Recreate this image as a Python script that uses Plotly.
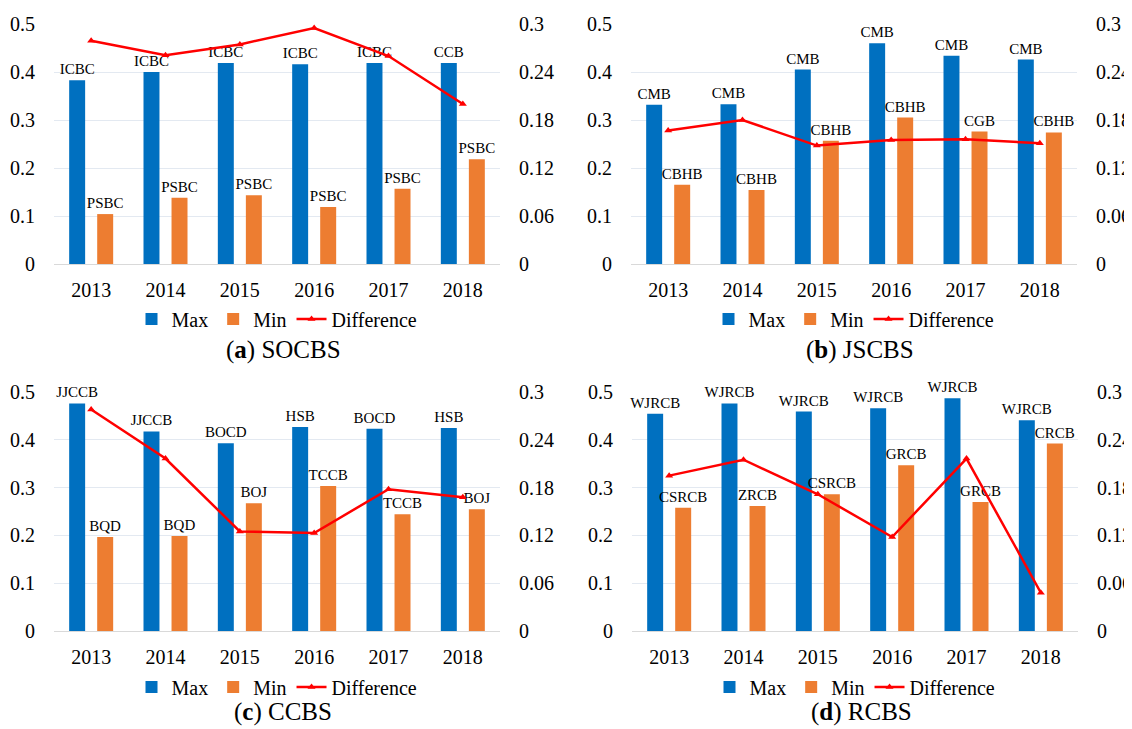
import plotly.graph_objects as go

years = ["2013", "2014", "2015", "2016", "2017", "2018"]

# (a) SOCBS
a_max = [0.383, 0.400, 0.419, 0.416, 0.419, 0.419]
a_min = [0.104, 0.138, 0.143, 0.119, 0.157, 0.218]
a_diff = [0.279, 0.261, 0.2745, 0.295, 0.260, 0.200]
a_max_lbl = ["ICBC", "ICBC", "ICBC", "ICBC", "ICBC", "CCB"]
a_min_lbl = ["PSBC", "PSBC", "PSBC", "PSBC", "PSBC", "PSBC"]

# (b) JSCBS
b_max = [0.332, 0.333, 0.405, 0.460, 0.434, 0.426]
b_min = [0.165, 0.154, 0.257, 0.305, 0.276, 0.274]
b_diff = [0.167, 0.180, 0.148, 0.155, 0.156, 0.151]
b_max_lbl = ["CMB", "CMB", "CMB", "CMB", "CMB", "CMB"]
b_min_lbl = ["CBHB", "CBHB", "CBHB", "CBHB", "CGB", "CBHB"]

# (c) CCBS
c_max = [0.476, 0.4175, 0.393, 0.4266, 0.423, 0.4245]
c_min = [0.1965, 0.199, 0.267, 0.3035, 0.244, 0.2545]
c_diff = [0.278, 0.2165, 0.125, 0.123, 0.178, 0.168]
c_max_lbl = ["JJCCB", "JJCCB", "BOCD", "HSB", "BOCD", "HSB"]
c_min_lbl = ["BQD", "BQD", "BOJ", "TCCB", "TCCB", "BOJ"]

# (d) RCBS
d_max = [0.4545, 0.476, 0.459, 0.466, 0.487, 0.441]
d_min = [0.258, 0.2615, 0.286, 0.347, 0.270, 0.392]
d_diff = [0.195, 0.215, 0.1716, 0.118, 0.2165, 0.048]
d_max_lbl = ["WJRCB"] * 6
d_min_lbl = ["CSRCB", "ZRCB", "CSRCB", "GRCB", "GRCB", "CRCB"]

left_ticks = [0, 0.1, 0.2, 0.3, 0.4, 0.5]
left_tick_text = ["0", "0.1", "0.2", "0.3", "0.4", "0.5"]
right_ticks = [0, 0.06, 0.12, 0.18, 0.24, 0.3]
right_tick_text = ["0", "0.06", "0.12", "0.18", "0.24", "0.3"]

captions = ["(<b>a</b>) SOCBS", "(<b>b</b>) JSCBS", "(<b>c</b>) CCBS", "(<b>d</b>) RCBS"]
panels = [
    (a_max, a_min, a_diff, a_max_lbl, a_min_lbl),
    (b_max, b_min, b_diff, b_max_lbl, b_min_lbl),
    (c_max, c_min, c_diff, c_max_lbl, c_min_lbl),
    (d_max, d_min, d_diff, d_max_lbl, d_min_lbl),
]

# The page body adds an 8px margin, so the figure is 8px smaller than the window
OFF = 8
W, H = 1132 - OFF, 729 - OFF
FONT = "Liberation Serif"
BLUE = "#0070C0"
ORANGE = "#ED7D31"
RED = "#FF0000"


def px_x(p):
    return (p - OFF) / W


def px_y(p):
    return 1 - (p - OFF) / H


# window-pixel geometry of each plot area: (left, right, top, bottom)
boxes = [
    (54, 500, 24, 264),
    (631, 1077, 24, 264),
    (54, 500, 392, 631),
    (632, 1078, 392, 631),
]
legend_y = [319, 319, 687, 687]
caption_y = [350, 350, 712, 712]

fig = go.Figure()
layout = dict(
    template="none",
    width=W, height=H, autosize=False,
    margin=dict(l=0, r=0, t=0, b=0, pad=0),
    paper_bgcolor="white", plot_bgcolor="white",
    font=dict(family=FONT, size=20, color="black"),
    barmode="group", bargap=0.246, bargroupgap=0.43,
    annotations=[],
)

for i, (mx, mn, df, mxl, mnl) in enumerate(panels):
    xa = "x" if i == 0 else f"x{i+1}"
    yl = "y" if i == 0 else f"y{2*i+1}"
    yr = f"y{2*i+2}"
    leg = "legend" if i == 0 else f"legend{i+1}"
    l, r, t, b = boxes[i]
    xdom = [px_x(l), px_x(r)]
    ydom = [px_y(b), px_y(t)]

    fig.add_trace(go.Bar(
        x=years, y=mx, name="Max", text=mxl, textposition="outside",
        constraintext="none", cliponaxis=False,
        textfont=dict(family=FONT, size=15, color="black"),
        marker=dict(color=BLUE, line=dict(width=0)), xaxis=xa, yaxis=yl, legend=leg,
        offsetgroup="max",
    ))
    fig.add_trace(go.Bar(
        x=years, y=mn, name="Min", text=mnl, textposition="outside",
        constraintext="none", cliponaxis=False,
        textfont=dict(family=FONT, size=15, color="black"),
        marker=dict(color=ORANGE, line=dict(width=0)), xaxis=xa, yaxis=yl, legend=leg,
        offsetgroup="min",
    ))
    fig.add_trace(go.Scatter(
        x=years, y=df, name="Difference", mode="lines+markers",
        line=dict(color=RED, width=2.5),
        marker=dict(symbol="triangle-up", size=7, color=RED),
        xaxis=xa, yaxis=yr, legend=leg, cliponaxis=False,
    ))

    xkey = "xaxis" if i == 0 else f"xaxis{i+1}"
    ylkey = "yaxis" if i == 0 else f"yaxis{2*i+1}"
    yrkey = f"yaxis{2*i+2}"
    layout[xkey] = dict(
        domain=xdom, anchor=yl, type="category", automargin=False,
        showgrid=False, showline=True, linecolor="#D9D9D9", linewidth=1,
        zeroline=False,
        ticks="outside", ticklen=8, tickcolor="rgba(0,0,0,0)",
        tickfont=dict(family=FONT, size=20, color="black"),
    )
    layout[ylkey] = dict(
        domain=ydom, anchor=xa, range=[0, 0.5], automargin=False,
        tickvals=left_ticks, ticktext=left_tick_text,
        showgrid=True, gridcolor="#E3E9F1", gridwidth=1,
        zeroline=False, showline=False,
        ticks="outside", ticklen=14, tickcolor="rgba(0,0,0,0)",
        tickfont=dict(family=FONT, size=20, color="black"),
    )
    layout[yrkey] = dict(
        domain=ydom, anchor=xa, overlaying=yl, side="right",
        range=[0, 0.3], automargin=False,
        tickvals=right_ticks, ticktext=right_tick_text,
        showgrid=False, zeroline=False, showline=False,
        ticks="outside", ticklen=14, tickcolor="rgba(0,0,0,0)",
        tickfont=dict(family=FONT, size=20, color="black"),
    )
    layout[leg] = dict(
        orientation="h", x=px_x((l + r) / 2), y=px_y(legend_y[i]),
        xanchor="center", yanchor="middle",
        font=dict(family=FONT, size=20, color="black"),
        bgcolor="rgba(0,0,0,0)", itemwidth=30, tracegroupgap=0,
    )
    layout["annotations"].append(dict(
        text=captions[i], x=px_x((l + r) / 2 + 6), y=px_y(caption_y[i]),
        xref="paper", yref="paper", xanchor="center", yanchor="middle",
        showarrow=False, font=dict(family=FONT, size=25, color="black"),
    ))

fig.update_layout(**layout)
fig.write_html("out.html")
